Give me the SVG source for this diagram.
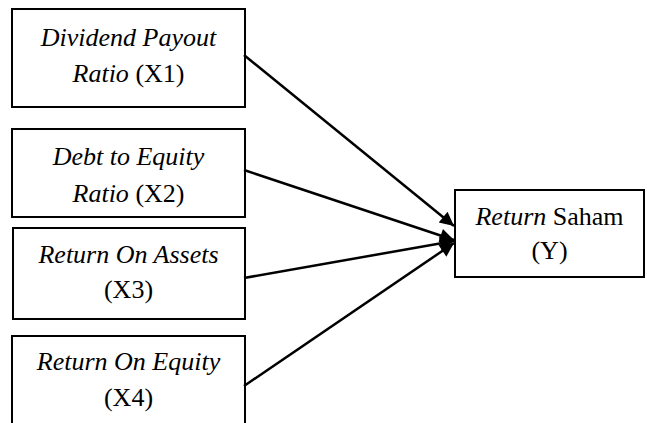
<svg xmlns="http://www.w3.org/2000/svg" width="647" height="423" viewBox="0 0 647 423">
  <style>
    .box { fill: #fff; stroke: #000; stroke-width: 2; }
    .lbl { font-family: "Liberation Serif", "Times New Roman", serif; font-size: 26px; fill: #000; text-anchor: middle; }
    .it { font-style: italic; }
    .edge { stroke: #000; stroke-width: 2.5; fill: none; marker-end: url(#head); }
  </style>
  <defs>
    <marker id="head" viewBox="0 0 10 10" refX="10" refY="5" markerWidth="7" markerHeight="5.6" markerUnits="strokeWidth" orient="auto">
      <path d="M0,0 L10,5 L0,10 z" fill="#000"/>
    </marker>
  </defs>

  <!-- independent variables -->
  <g id="x1">
    <rect class="box" x="12" y="9" width="233" height="98"/>
    <text class="lbl" x="128.5" y="46"><tspan class="it">Dividend Payout</tspan></text>
    <text class="lbl" x="128.5" y="82"><tspan class="it">Ratio</tspan> (X1)</text>
  </g>
  <g id="x2">
    <rect class="box" x="12" y="129" width="233" height="88"/>
    <text class="lbl" x="128.5" y="165"><tspan class="it">Debt to Equity</tspan></text>
    <text class="lbl" x="128.5" y="202"><tspan class="it">Ratio</tspan> (X2)</text>
  </g>
  <g id="x3">
    <rect class="box" x="13" y="228" width="232" height="91"/>
    <text class="lbl" x="128.5" y="263"><tspan class="it">Return On Assets</tspan></text>
    <text class="lbl" x="128.5" y="298">(X3)</text>
  </g>
  <g id="x4">
    <rect class="box" x="12" y="336" width="233" height="100"/>
    <text class="lbl" x="128.5" y="370"><tspan class="it">Return On Equity</tspan></text>
    <text class="lbl" x="128.5" y="406">(X4)</text>
  </g>

  <!-- dependent variable -->
  <g id="y">
    <rect class="box" x="455" y="190" width="189" height="87"/>
    <text class="lbl" x="549.5" y="225"><tspan class="it">Return</tspan> Saham</text>
    <text class="lbl" x="549.5" y="259">(Y)</text>
  </g>

  <g id="connectors">
    <line class="edge" x1="244" y1="55" x2="454" y2="226"/>
    <line class="edge" x1="244" y1="170" x2="454" y2="240"/>
    <line class="edge" x1="244" y1="278" x2="454" y2="241"/>
    <line class="edge" x1="244" y1="386" x2="454" y2="243"/>
  </g>
</svg>
